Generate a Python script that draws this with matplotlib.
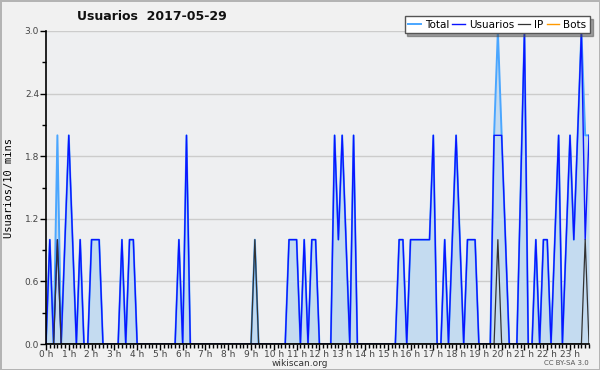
import matplotlib
matplotlib.use("Agg")
import matplotlib.pyplot as plt
import numpy as np
from matplotlib.ticker import MultipleLocator

# valores cada 10 minutos (144 puntos)
usuarios = [0, 1, 0, 1, 0, 1, 2, 1, 0, 1, 0, 0, 1, 1, 1, 0, 0, 0, 0, 0,
            1, 0, 1, 1, 0, 0, 0, 0, 0, 0, 0, 0, 0, 0, 0, 1, 0, 2, 0, 0,
            0, 0, 0, 0, 0, 0, 0, 0, 0, 0, 0, 0, 0, 0, 0, 0, 0, 0, 0, 0,
            0, 0, 0, 0, 1, 1, 1, 0, 1, 0, 1, 1, 0, 0, 0, 0, 2, 1, 2, 1,
            0, 2, 0, 0, 0, 0, 0, 0, 0, 0, 0, 0, 0, 1, 1, 0, 1, 1, 1, 1,
            1, 1, 2, 0, 0, 1, 0, 1, 2, 1, 0, 1, 1, 1, 0, 0, 0, 0, 2, 2,
            2, 1, 0, 0, 0, 1.5, 3, 0, 0, 1, 0, 1, 1, 0, 1, 2, 0, 1, 2, 1,
            2, 3, 1, 2]
ip = [0] * 144
for k in [3, 55, 119, 142]:
    ip[k] = 1
bots = [0] * 144
total = [u + p + b for u, p, b in zip(usuarios, ip, bots)]

horas = np.arange(144) / 6.0
etiquetas_x = [f"{h} h" for h in range(24)]

fig = plt.figure(figsize=(6, 3.7), dpi=100, facecolor="#f1f1f1",
                 edgecolor="#b4b4b4", linewidth=2)
ax = fig.add_axes([46 / 600, 26 / 370, 543 / 600, 313 / 370])
ax.set_facecolor("#eeeff1")

ax.fill_between(horas, total, 0, color="#c4dbf0", lw=0, zorder=1)
l_bots, = ax.plot(horas, bots, color="#ff9900", lw=1, label="Bots", zorder=1.5)
l_total, = ax.plot(horas, total, color="#4aa6ff", lw=1.4, label="Total", zorder=2)
l_usu, = ax.plot(horas, usuarios, color="#0a14ff", lw=1.0, label="Usuarios", zorder=2.1)
l_ip, = ax.plot(horas, ip, color="#333333", lw=0.9, label="IP", zorder=2.2)

ax.set_xlim(0, 143 / 6)
ax.set_ylim(0, 3.0)
ax.set_xticks(range(24))
ax.set_xticklabels(etiquetas_x)
ax.xaxis.set_minor_locator(MultipleLocator(1 / 6))
ax.set_yticks([0, 0.6, 1.2, 1.8, 2.4, 3.0])
ax.set_yticklabels(["0.0", "0.6", "1.2", "1.8", "2.4", "3.0"])
ax.yaxis.set_minor_locator(MultipleLocator(0.3))
ax.tick_params(axis="both", which="major", length=4, width=1, labelsize=6.5,
               labelcolor="#444444", pad=1)
ax.tick_params(axis="x", which="major", pad=0.5)
ax.tick_params(axis="both", which="minor", length=3, width=1)
ax.grid(axis="y", color="#cccccc", lw=1)
ax.set_axisbelow(True)
for s in ["top", "right"]:
    ax.spines[s].set_visible(False)
for s in ["left", "bottom"]:
    ax.spines[s].set_linewidth(1.2)

ax.set_ylabel("Usuarios/10 mins", family="DejaVu Sans Mono", fontsize=7.5, labelpad=8)

fig.text(152 / 600, 1 - 17 / 370, "Usuarios  2017-05-29", ha="center", va="center",
         fontsize=9, fontweight="bold", color="#111111")
fig.text(300 / 600, 1 - 363 / 370, "wikiscan.org", ha="center", va="center",
         fontsize=6.5, color="#333333")
fig.text(566 / 600, 1 - 363 / 370, "CC BY-SA 3.0", ha="center", va="center",
         fontsize=5, color="#555555")

leg = fig.legend(handles=[l_total, l_usu, l_ip, l_bots], loc="upper right",
                 bbox_to_anchor=(590 / 600, 1 - 16 / 370), ncol=4, fontsize=7.5,
                 frameon=True, fancybox=False, shadow=True, handlelength=1.2,
                 handletextpad=0.4, columnspacing=0.3, borderpad=0.35,
                 borderaxespad=0)
leg.get_frame().set_edgecolor("#555555")
leg.get_frame().set_linewidth(1)

fig.savefig("out.png", dpi=100, facecolor=fig.get_facecolor(),
            edgecolor=fig.get_edgecolor())
